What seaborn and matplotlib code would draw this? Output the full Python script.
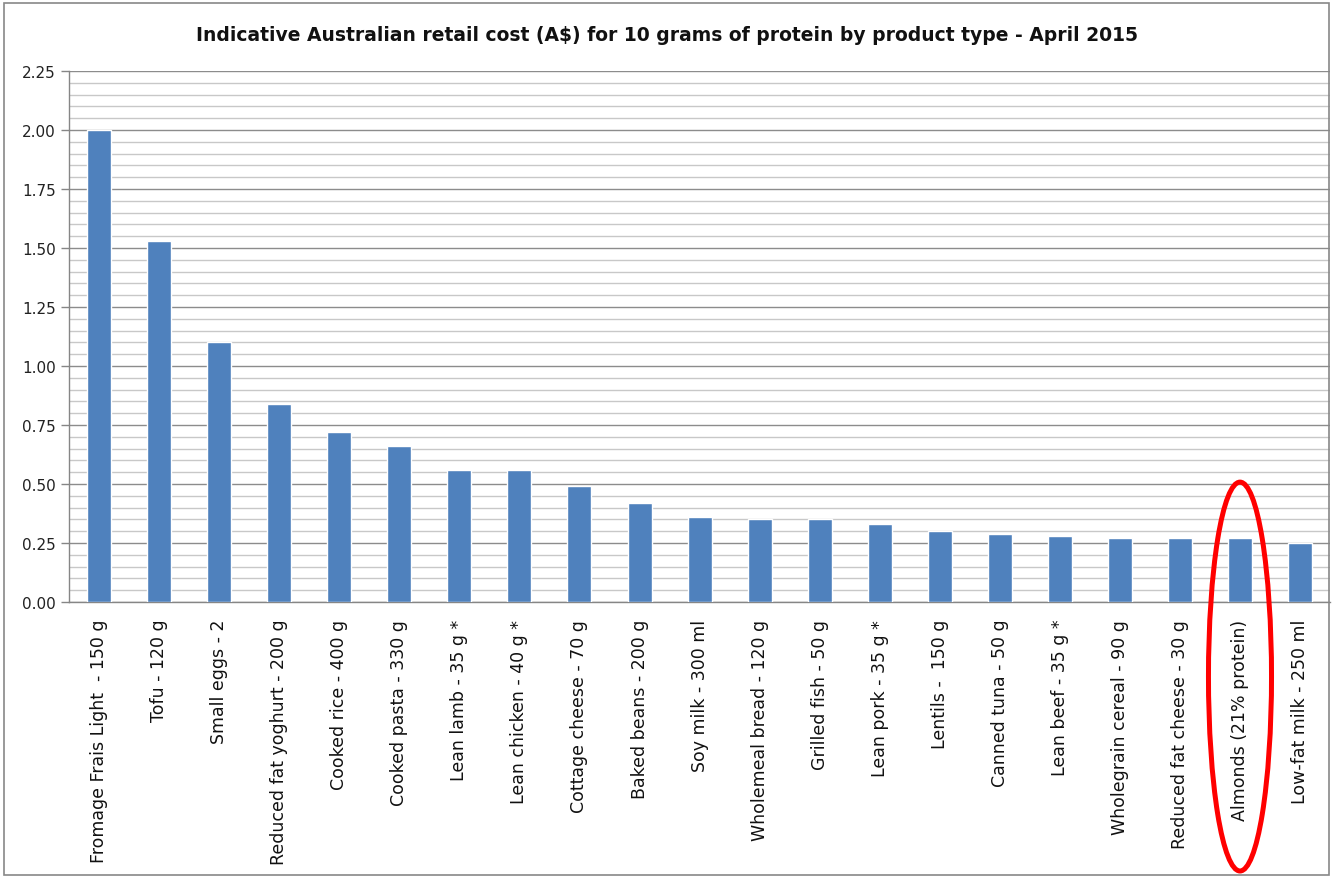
import matplotlib
matplotlib.use("Agg")
import matplotlib.pyplot as plt
import seaborn as sns
import numpy as np
from matplotlib.patches import Ellipse, Rectangle
from matplotlib.ticker import MultipleLocator, FixedLocator

categories = [
    "Fromage Frais Light  - 150 g", "Tofu - 120 g", "Small eggs - 2",
    "Reduced fat yoghurt - 200 g", "Cooked rice - 400 g", "Cooked pasta - 330 g",
    "Lean lamb - 35 g *", "Lean chicken - 40 g *", "Cottage cheese - 70 g",
    "Baked beans - 200 g", "Soy milk - 300 ml", "Wholemeal bread - 120 g",
    "Grilled fish - 50 g", "Lean pork - 35 g *", "Lentils -  150 g",
    "Canned tuna - 50 g", "Lean beef - 35 g *", "Wholegrain cereal - 90 g",
    "Reduced fat cheese - 30 g", "Almonds (21% protein)", "Low-fat milk - 250 ml",
]
values = [2.00, 1.53, 1.10, 0.84, 0.72, 0.66, 0.56, 0.56, 0.49, 0.42, 0.36,
          0.35, 0.35, 0.33, 0.30, 0.29, 0.28, 0.27, 0.27, 0.27, 0.25]
yticks = [0.00, 0.25, 0.50, 0.75, 1.00, 1.25, 1.50, 1.75, 2.00, 2.25]
title = "Indicative Australian retail cost (A$) for 10 grams of protein by product type - April 2015"
highlight = "Almonds (21% protein)"

sns.set_style("white")
plt.rcParams['font.family'] = ['DejaVu Sans']

fig = plt.figure(figsize=(13.33, 8.79), dpi=100)
ax = fig.add_axes([0.0518, 0.314, 0.946, 0.604])

sns.barplot(x=categories, y=values, color="#4F81BD", width=0.4, ax=ax,
            saturation=1, zorder=3)

ax.set_xlim(-0.5, len(categories) - 0.5)
ax.set_ylim(0, 2.25)
ax.yaxis.set_major_locator(FixedLocator(yticks))
ax.yaxis.set_minor_locator(MultipleLocator(0.05))
ax.set_yticklabels([f"{v:.2f}" for v in yticks], fontsize=11, color="#222222")
ax.grid(which="major", axis="y", color="#8C8C8C", linewidth=1.0, zorder=0)
ax.grid(which="minor", axis="y", color="#C8C8C8", linewidth=1.0, zorder=0)
ax.grid(False, axis="x")
ax.set_axisbelow(True)

ax.set_xticks(range(len(categories)))
ax.set_xticklabels(categories, rotation=90, fontsize=12.5, color="#111111")
ax.xaxis.set_minor_locator(FixedLocator(np.arange(-0.5, len(categories), 1.0)))
ax.tick_params(axis="x", which="major", length=0, pad=12)
ax.tick_params(axis="x", which="minor", length=6, color="#868686", width=1)
ax.tick_params(axis="y", which="major", length=6, color="#868686", width=1, left=True)
ax.tick_params(axis="y", which="minor", length=0)

for s in ["top", "right"]:
    ax.spines[s].set_visible(False)
for s in ["left", "bottom"]:
    ax.spines[s].set_color("#868686")
    ax.spines[s].set_linewidth(1.0)
ax.set_xlabel("")
ax.set_ylabel("")

fig.suptitle(title, x=0.5, y=0.97, fontsize=13.5, fontweight="bold", color="#111111")

# highlight ellipse around Almonds
idx = categories.index(highlight)
ell = Ellipse((idx, -0.316), width=1.05, height=1.648, fill=False,
              edgecolor="#FF0000", linewidth=3.6, clip_on=False, zorder=5)
ax.add_patch(ell)

# chart border
fig.patches.append(Rectangle((0.003, 0.003), 0.994, 0.993, transform=fig.transFigure,
                             fill=False, edgecolor="#888888", linewidth=1.2))

fig.savefig("out.png", dpi=100)
